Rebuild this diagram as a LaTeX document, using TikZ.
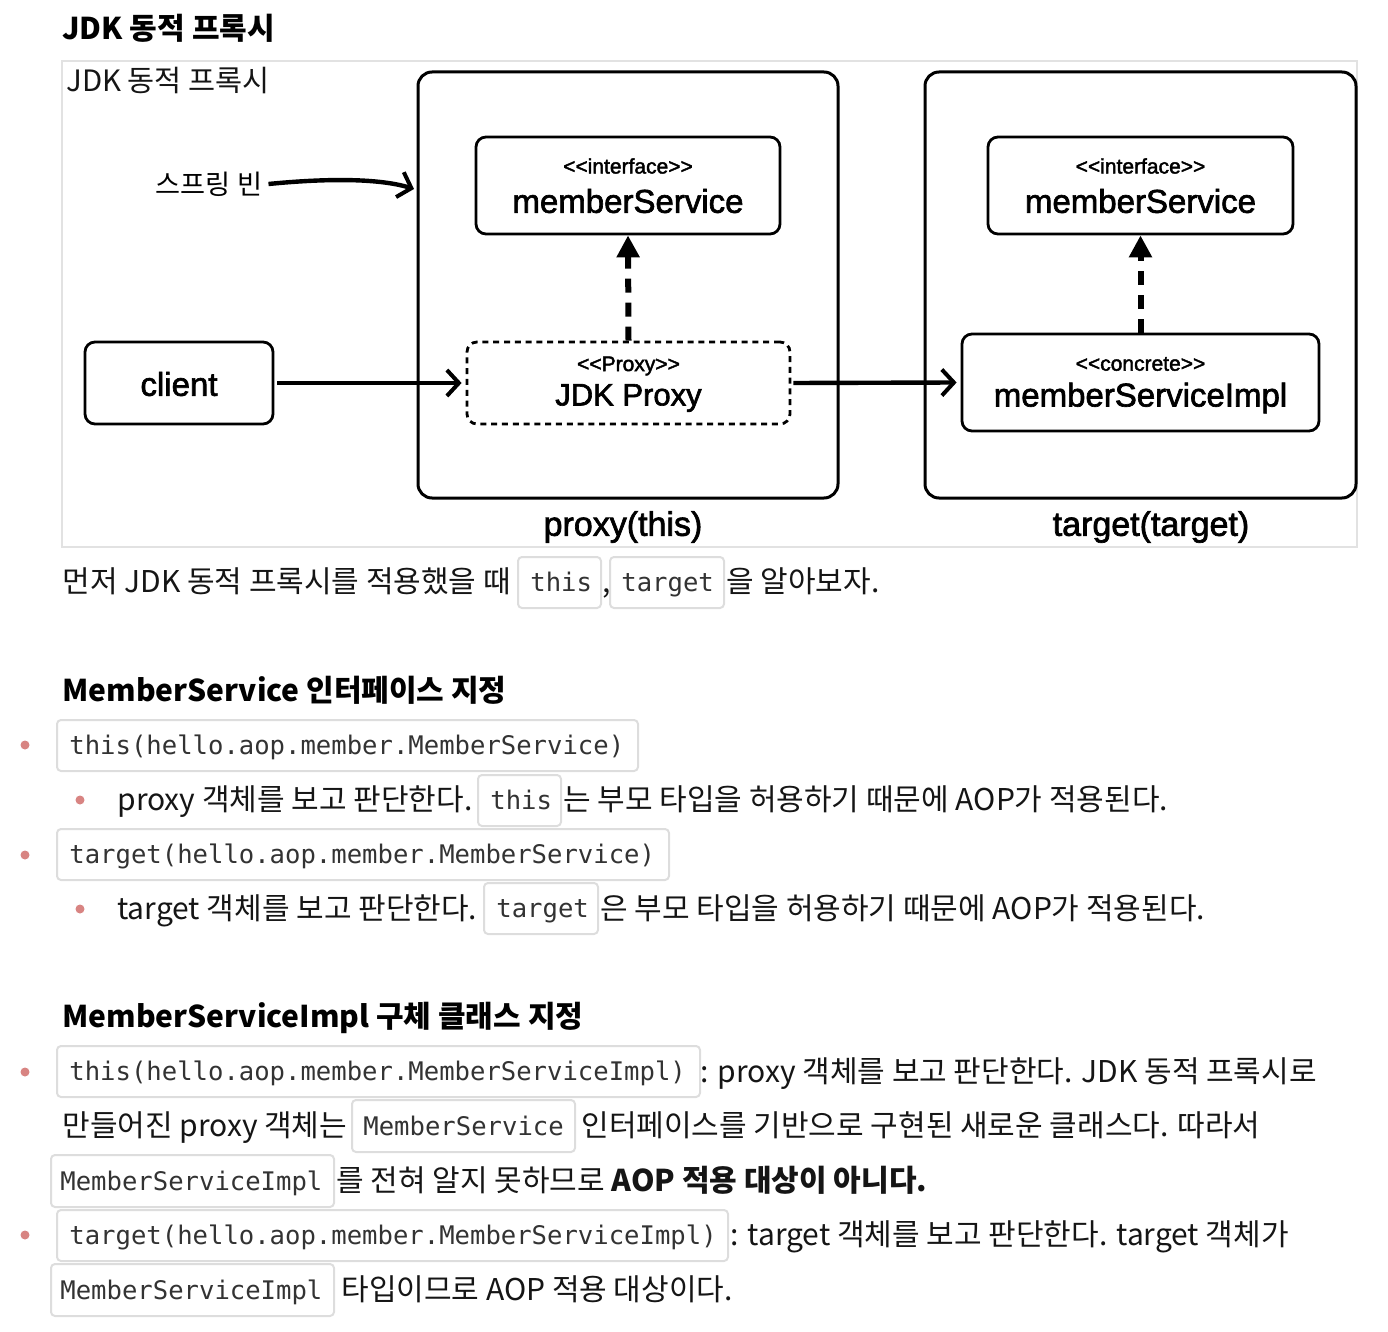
\documentclass[tikz,border=0pt]{standalone}
\usepackage{fontspec}
\setmainfont{Liberation Sans}
\newfontfamily\dgm[FakeBold=2]{Liberation Sans}
\newfontfamily\kr{Noto Sans CJK KR}
\newfontfamily\codef{DejaVu Sans Mono}
\usetikzlibrary{arrows.meta}
\definecolor{boxgray}{HTML}{DDDDDD}
\definecolor{outergray}{HTML}{E2E2E2}
\definecolor{bulletc}{HTML}{D88482}
\definecolor{codetext}{HTML}{333333}
\definecolor{bodytext}{HTML}{151515}
\begin{document}
\begin{tikzpicture}[x=0.5pt,y=-0.5pt,
  cont/.style={draw, line width=1.5pt, rounded corners=7pt, inner sep=0},
  umlbox/.style={draw, line width=1.4pt, rounded corners=5pt, inner sep=0},
  proxybox/.style={draw, line width=1.4pt, rounded corners=5pt, inner sep=0, dash pattern=on 3pt off 2.4pt},
  stereo/.style={font=\dgm\fontsize{10.5}{12}\selectfont, inner sep=0},
  uname/.style={font=\dgm\fontsize{16.5}{19}\selectfont, inner sep=0},
  flow/.style={line width=2.2pt, -{Straight Barb[length=6pt,width=13pt,line width=2pt]}},
  impl/.style={line width=3pt, dash pattern=on 7pt off 5pt, -{Triangle[length=11pt,width=11pt]}},
  txt/.style={font=\kr\fontsize{15}{18}\selectfont, text=bodytext, anchor=base west, inner sep=0},
  head/.style={font=\kr\bfseries\fontsize{15}{18}\selectfont, text=black, anchor=base west, inner sep=0},
  codebox/.style={draw=boxgray, line width=1pt, rounded corners=2pt, fill=white, inner sep=0, minimum height=25.5pt},
  code/.style={font=\codef\fontsize{12.8}{15}\selectfont, text=codetext, anchor=base west, inner sep=0},
  bdot/.style={circle, fill=bulletc, inner sep=0, minimum size=4.5pt}
]
\useasboundingbox (0,0) rectangle (1388,1332);

% ---------- diagram ----------
\node[head, font=\kr\bfseries\fontsize{15}{18}\selectfont] (title) at (62,40) {JDK 동적 프록시};
\node[draw=outergray, line width=1.2pt, inner sep=0, minimum width=647.5pt, minimum height=243pt] (frame) at (709.5,304) {};
\node[txt, font=\kr\fontsize{14.7}{17}\selectfont] (framelabel) at (66,92) {JDK 동적 프록시};

\node[cont, minimum width=210pt, minimum height=213pt] (proxyc) at (628,285) {};
\node[cont, minimum width=215.5pt, minimum height=213pt] (targetc) at (1140.5,285) {};

\node[umlbox, minimum width=152pt, minimum height=48.5pt] (ms1) at (628,185.5) {};
\node[stereo] (ms1s) at (628,166) {{<}{<}interface{>}{>}};
\node[uname] (ms1n) at (628,201) {memberService};

\node[umlbox, minimum width=152.5pt, minimum height=48.5pt] (ms2) at (1140.5,185.5) {};
\node[stereo] (ms2s) at (1140.5,166) {{<}{<}interface{>}{>}};
\node[uname] (ms2n) at (1140.5,201) {memberService};

\node[proxybox, minimum width=161.5pt, minimum height=41pt] (jdk) at (628.5,383) {};
\node[stereo] (jdks) at (628.5,366) {{<}{<}Proxy{>}{>}};
\node[uname, font=\dgm\fontsize{15.5}{18}\selectfont] (jdkn) at (628.5,398) {JDK Proxy};

\node[umlbox, minimum width=178.5pt, minimum height=48.5pt] (msi) at (1140.5,382.5) {};
\node[stereo] (msis) at (1140.5,364) {{<}{<}concrete{>}{>}};
\node[uname] (msin) at (1140.5,398) {memberServiceImpl};

\node[umlbox, minimum width=94pt, minimum height=41pt] (client) at (179,383) {};
\node[uname] (clientn) at (179,384) {client};

\node[uname, font=\dgm\fontsize{17}{20}\selectfont] (plabel) at (623,527) {proxy(this)};
\node[uname, font=\dgm\fontsize{17}{20}\selectfont] (tlabel) at (1151,527) {target(target)};

\node[font=\kr\fontsize{13.6}{16}\selectfont, inner sep=0] (bean) at (209,184) {스프링 빈};
\coordinate (beanend) at (414,189);

\draw[flow] ([xshift=3pt]bean.east) .. controls (340,177) and (385,180) .. (beanend);
\draw[flow] ([xshift=1.5pt]client.east) -- ([xshift=-2pt]jdk.west);
\draw[flow] ([xshift=1pt]jdk.east) -- ([xshift=-2pt]msi.west);
\draw[impl] (jdk.north) -- (ms1.south);
\draw[impl] (msi.north) -- (ms2.south);

% ---------- body text ----------
\node[txt] (l1a) at (62,592) {먼저 JDK 동적 프록시를 적용했을 때};
\node[codebox, minimum width=41.5pt] (cbA) at (559.5,582.5) {};
\node[code] (cA) at (530,591) {this};
\node[txt] (l1b) at (602,592) {,};
\node[codebox, minimum width=57pt] (cbB) at (667,582.5) {};
\node[code] (cB) at (621,591) {target};
\node[txt] (l1c) at (726,592) {을 알아보자.};

\node[head] (h2) at (62,701) {MemberService 인터페이스 지정};

\node[bdot] (d1) at (25,745) {};
\node[codebox, minimum width=290.5pt] (cb1) at (347.5,745.5) {};
\node[code] (c1) at (69,754) {this(hello.aop.member.MemberService)};

\node[bdot] (d1a) at (80,800) {};
\node[txt] (s1a) at (117,810) {proxy 객체를 보고 판단한다.};
\node[codebox, minimum width=41.5pt] (cb2) at (519.5,800.5) {};
\node[code] (c2) at (490,809) {this};
\node[txt] (s1b) at (563,810) {는 부모 타입을 허용하기 때문에 AOP가 적용된다.};

\node[bdot] (d2) at (25,855) {};
\node[codebox, minimum width=306pt] (cb3) at (363,854.5) {};
\node[code] (c3) at (69,863) {target(hello.aop.member.MemberService)};

\node[bdot] (d2a) at (80,909) {};
\node[txt] (s2a) at (117,919) {target 객체를 보고 판단한다.};
\node[codebox, minimum width=57pt] (cb4) at (541,908.5) {};
\node[code] (c4) at (496,917) {target};
\node[txt] (s2b) at (600,919) {은 부모 타입을 허용하기 때문에 AOP가 적용된다.};

\node[head] (h3) at (62,1027) {MemberServiceImpl 구체 클래스 지정};

\node[bdot] (d3) at (25,1072) {};
\node[codebox, minimum width=321.5pt] (cb5) at (378.5,1071.5) {};
\node[code] (c5) at (69,1080) {this(hello.aop.member.MemberServiceImpl)};
\node[txt] (t5) at (700,1082) {: proxy 객체를 보고 판단한다. JDK 동적 프록시로};

\node[txt] (t6a) at (62,1136) {만들어진 proxy 객체는};
\node[codebox, minimum width=111.5pt, minimum height=26pt] (cb6) at (463.5,1126) {};
\node[code] (c6) at (363,1135) {MemberService};
\node[txt] (t6b) at (581,1136) {인터페이스를 기반으로 구현된 새로운 클래스다. 따라서};

\node[codebox, minimum width=141.5pt, minimum height=26pt] (cb7) at (192.5,1181) {};
\node[code] (c7) at (60,1190) {MemberServiceImpl};
\node[txt] (t7) at (336,1191) {를 전혀 알지 못하므로 {\bfseries AOP 적용 대상이 아니다.}};

\node[bdot] (d4) at (25,1235) {};
\node[codebox, minimum width=335.5pt] (cb8) at (392.5,1235.5) {};
\node[code] (c8) at (69,1244) {target(hello.aop.member.MemberServiceImpl)};
\node[txt] (t8) at (730,1245) {: target 객체를 보고 판단한다. target 객체가};

\node[codebox, minimum width=141.5pt, minimum height=26pt] (cb9) at (192.5,1290) {};
\node[code] (c9) at (60,1299) {MemberServiceImpl};
\node[txt] (t9) at (341,1300) {타입이므로 AOP 적용 대상이다.};
\end{tikzpicture}
\end{document}
